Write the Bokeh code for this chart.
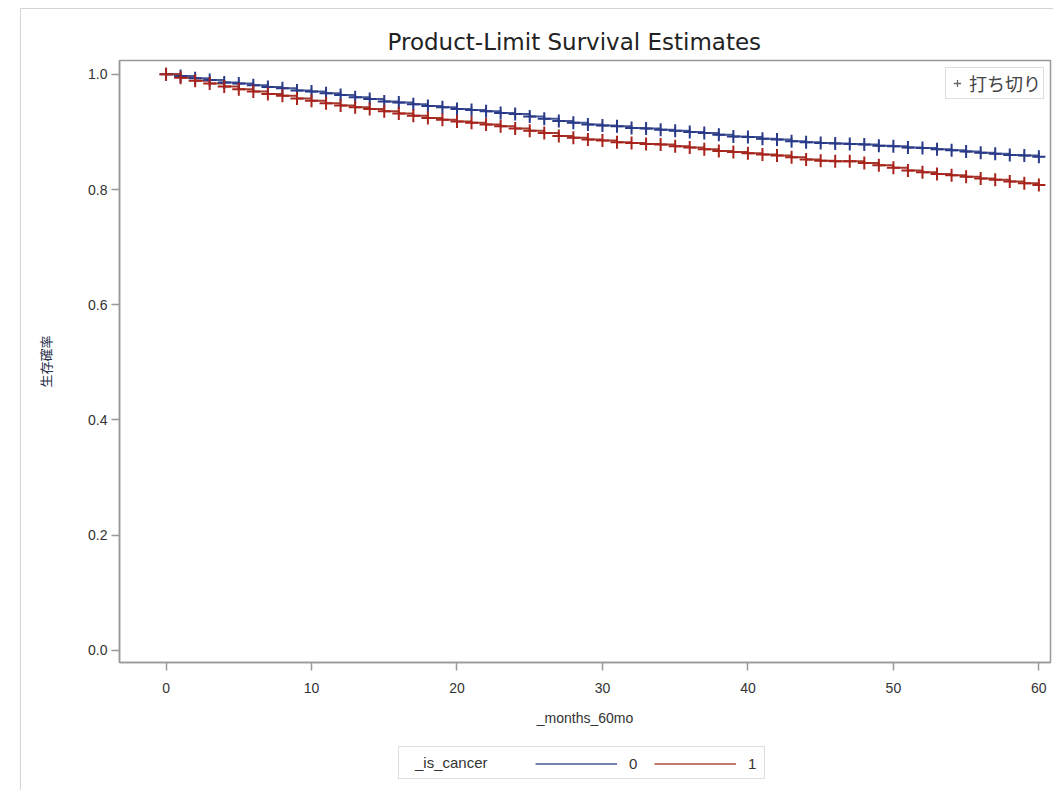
from bokeh.plotting import figure
from bokeh.layouts import column
from bokeh.models import Legend, LegendItem, Range1d, FixedTicker, PrintfTickFormatter
from bokeh.embed import file_html
from bokeh.resources import INLINE

months = list(range(0, 61))
surv_0 = [1.000, 0.997, 0.993, 0.990, 0.986, 0.984, 0.981, 0.978, 0.976, 0.972,
          0.970, 0.967, 0.964, 0.960, 0.957, 0.953, 0.951, 0.948, 0.945, 0.943,
          0.940, 0.938, 0.936, 0.933, 0.931, 0.927, 0.923, 0.919, 0.916, 0.913,
          0.911, 0.910, 0.907, 0.906, 0.904, 0.902, 0.900, 0.898, 0.895, 0.892,
          0.891, 0.888, 0.887, 0.884, 0.882, 0.881, 0.880, 0.879, 0.878, 0.876,
          0.875, 0.873, 0.872, 0.870, 0.868, 0.866, 0.864, 0.862, 0.860, 0.859,
          0.857]
surv_1 = [1.000, 0.994, 0.989, 0.984, 0.979, 0.974, 0.970, 0.966, 0.963, 0.958,
          0.954, 0.950, 0.946, 0.943, 0.940, 0.936, 0.932, 0.928, 0.924, 0.921,
          0.918, 0.916, 0.913, 0.910, 0.906, 0.902, 0.898, 0.893, 0.890, 0.887,
          0.885, 0.882, 0.881, 0.879, 0.878, 0.875, 0.873, 0.870, 0.867, 0.865,
          0.863, 0.861, 0.859, 0.856, 0.852, 0.850, 0.849, 0.849, 0.846, 0.842,
          0.838, 0.833, 0.830, 0.827, 0.825, 0.822, 0.819, 0.817, 0.814, 0.811,
          0.808]
groups = ["0", "1"]
group_title = "_is_cancer"
x_ticks = [0, 10, 20, 30, 40, 50, 60]
y_ticks = [0.0, 0.2, 0.4, 0.6, 0.8, 1.0]

c0_line, c1_line = "#445694", "#A23A2E"
c0_mark, c1_mark = "#2a3a8a", "#a8231c"
c0_leg, c1_leg = "#7482b3", "#c4786d"
axis_col = "#999999"
txt_col = "#333333"

p = figure(width=1032, height=731, output_backend="svg", toolbar_location=None,
           min_border_left=98, min_border_right=3, min_border_top=51, min_border_bottom=78,
           x_range=Range1d(-3.2, 60.8), y_range=Range1d(-0.021, 1.024))

p.title.text = "Product-Limit Survival Estimates"
p.title.align = "left"
p.title.offset = 268
p.title.text_font = "DejaVu Sans"
p.title.text_font_size = "23px"
p.title.text_font_style = "normal"
p.title.text_color = "#222222"
p.title.standoff = 12

p.xgrid.visible = False
p.ygrid.visible = False
p.outline_line_color = axis_col
p.outline_line_width = 1.5

for ax in (p.xaxis[0], p.yaxis[0]):
    ax.axis_line_color = axis_col
    ax.axis_line_width = 1.5
    ax.major_tick_line_color = axis_col
    ax.major_tick_line_width = 1.5
    ax.major_tick_out = 8
    ax.major_tick_in = 0
    ax.minor_tick_line_color = None
    ax.major_label_text_font = "Liberation Sans"
    ax.major_label_text_font_size = "14px"
    ax.major_label_text_color = txt_col
    ax.axis_label_text_font_style = "normal"
    ax.axis_label_text_color = txt_col
    ax.axis_label_text_font_size = "14px"

p.xaxis.ticker = FixedTicker(ticks=x_ticks)
p.yaxis.ticker = FixedTicker(ticks=y_ticks)
p.yaxis.formatter = PrintfTickFormatter(format="%.1f")
p.xaxis.axis_label = "_months_60mo"
p.xaxis.axis_label_text_font = "Liberation Sans"
p.xaxis.major_label_standoff = 12
p.xaxis.axis_label_standoff = 14
p.yaxis.axis_label = "生存確率"
p.yaxis.axis_label_text_font = "Noto Sans CJK JP"
p.yaxis.axis_label_text_font_size = "13px"
p.yaxis.axis_label_text_color = "#2a2f4a"
p.yaxis.major_label_standoff = 4
p.yaxis.axis_label_standoff = 30

l0 = p.step(months, surv_0, mode="after", line_color=c0_line, line_width=2)
l1 = p.step(months, surv_1, mode="after", line_color=c1_line, line_width=2)
# censor legend proxy (hidden beneath the coloured markers)
cens = p.scatter(months, surv_0, marker="cross", size=8, line_color="#666666", line_width=1.3)
m0 = p.scatter(months, surv_0, marker="cross", size=13, line_color=c0_mark, line_width=2)
m1 = p.scatter(months, surv_1, marker="cross", size=13, line_color=c1_mark, line_width=2)

leg_c = Legend(items=[LegendItem(label="打ち切り", renderers=[cens])],
               location=(826, 563), border_line_color="#bbbbbb", border_line_width=1.5,
               label_text_font="Noto Sans CJK JP", label_text_font_size="18px",
               label_text_color="#444444", glyph_width=18, glyph_height=18,
               label_standoff=3, padding=2, margin=0, spacing=0, label_height=18)
p.add_layout(leg_c)

# legend strip below the chart (its own copy of the series lines, drawn off-range)
p2 = figure(width=1032, height=50, output_backend="svg", toolbar_location=None,
            min_border=0, x_axis_type=None, y_axis_type=None,
            x_range=Range1d(-1000, -999), y_range=Range1d(-1000, -999))
p2.outline_line_color = None
p2.xgrid.visible = False
p2.ygrid.visible = False
k0 = p2.step(months, surv_0, mode="after", line_color=c0_leg, line_width=2)
k1 = p2.step(months, surv_1, mode="after", line_color=c1_leg, line_width=2)
kt = p2.scatter(months, surv_0, marker="cross", size=1, line_color="white", line_alpha=0)

leg_t = Legend(items=[LegendItem(label=group_title, renderers=[kt])],
               location=(279, 11), border_line_color="#bbbbbb", border_line_width=1.5,
               label_text_font="Liberation Sans", label_text_font_size="15px",
               label_text_color=txt_col, glyph_width=1, glyph_height=1,
               label_standoff=8, padding=7, label_width=342, label_height=15,
               margin=0, background_fill_color="white")
leg_b = Legend(items=[LegendItem(label=groups[0], renderers=[k0]),
                      LegendItem(label=groups[1], renderers=[k1])],
               orientation="horizontal", location=(416, 18),
               border_line_color=None, background_fill_alpha=0,
               label_text_font="Liberation Sans", label_text_font_size="15px",
               label_text_color=txt_col, glyph_width=82, glyph_height=15,
               label_standoff=12, spacing=5, padding=0, margin=0, label_height=15)
p2.add_layout(leg_t)
p2.add_layout(leg_b)

layout = column(p, p2, spacing=0, margin=(8, 0, 0, 20),
                styles={"border-left": "1px solid #d4d4d4", "border-top": "1px solid #d4d4d4"})
open("out.html", "w").write(file_html(layout, INLINE))
